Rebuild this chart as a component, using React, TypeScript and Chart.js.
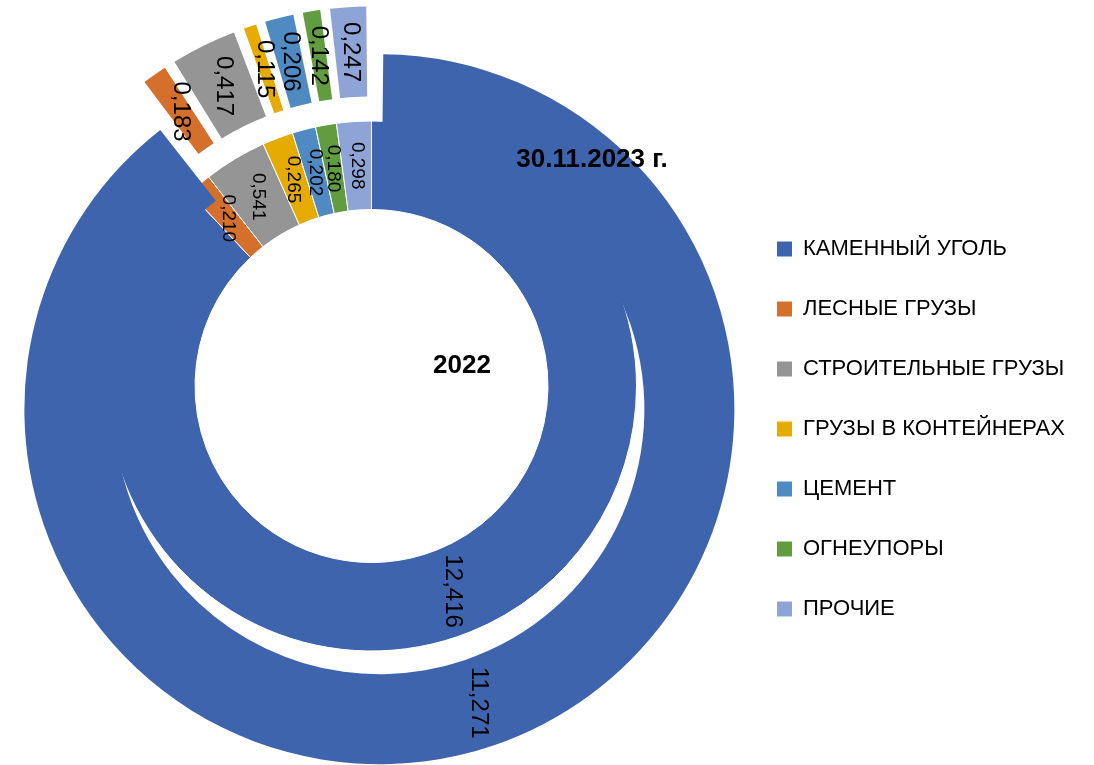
import React, { useEffect, useRef } from 'react';
import { Chart, registerables } from 'chart.js';

Chart.register(...registerables);

// ---- data ----
const categories = [
  'КАМЕННЫЙ УГОЛЬ',
  'ЛЕСНЫЕ ГРУЗЫ',
  'СТРОИТЕЛЬНЫЕ ГРУЗЫ',
  'ГРУЗЫ В КОНТЕЙНЕРАХ',
  'ЦЕМЕНТ',
  'ОГНЕУПОРЫ',
  'ПРОЧИЕ',
];
const values2023 = [11.271, 0.183, 0.417, 0.115, 0.206, 0.142, 0.247];
const values2022 = [12.416, 0.21, 0.541, 0.265, 0.202, 0.18, 0.298];
const seriesNames = ['30.11.2023 г.', '2022'];
const colors = ['#3E64AD', '#D4702C', '#959595', '#E5AB00', '#4F8AC2', '#629C40', '#8FA4D6'];

// ---- styling / geometry ----
const W = 1094;
const H = 765;
const FONT = "'Liberation Sans', Arial, sans-serif";
const HOLE_R = 176.5;
const INNER_OUT_R = 265;
const OUTER_OUT_R = 355;
const EXPLODE = 24.5;
const LEGEND_W = 355;

// Chart.js arc offset: translation o/4 plus radial growth (o/4)*fix
function explodeOffsets(vals: number[], d: number) {
  const total = vals.reduce((a, b) => a + b, 0);
  return vals.map((v) => {
    const circ = (v / total) * Math.PI * 2;
    const fix = 1 - Math.sin(Math.min(Math.PI, circ));
    return (8 * d) / (1 + fix);
  });
}

// outer dataset (index 0): nominal ring shifted inwards by EXPLODE
const outerNomOuter = OUTER_OUT_R - EXPLODE;
const outerNomInner = INNER_OUT_R - EXPLODE;
const outerCutout = ((2 * outerNomInner) / outerNomOuter - 1) * 100;
// inner dataset (index 1)
const innerL = INNER_OUT_R - HOLE_R;
const innerRadius = INNER_OUT_R + innerL;
const innerCutout = (HOLE_R / innerRadius) * 100;

const fmt = (v: number) => v.toFixed(3).replace('.', ',');

const legendWidthPlugin = {
  id: 'legendWidth',
  beforeUpdate(chart: any) {
    const lg = chart.legend;
    if (lg && !lg.__patched) {
      const orig = lg.fit.bind(lg);
      lg.fit = function () {
        orig();
        this.width = LEGEND_W;
      };
      lg.__patched = true;
    }
  },
};

const labelPlugin = {
  id: 'sliceLabels',
  afterDatasetsDraw(chart: any) {
    const ctx = chart.ctx;
    const total = (arr: number[]) => arr.reduce((a, b) => a + b, 0);
    let cx = 0;
    let cy = 0;
    chart.data.datasets.forEach((ds: any, di: number) => {
      const meta = chart.getDatasetMeta(di);
      const tot = total(ds.data);
      meta.data.forEach((arc: any, i: number) => {
        const p = arc.getProps(['x', 'y', 'startAngle', 'endAngle', 'innerRadius', 'outerRadius', 'circumference'], true);
        cx = p.x;
        cy = p.y;
        const o = (arc.options.offset || 0) / 4;
        const fix = 1 - Math.sin(Math.min(Math.PI, p.circumference));
        const h = (p.startAngle + p.endAngle) / 2;
        const r = (p.innerRadius + p.outerRadius) / 2 + o + o * fix;
        const x = p.x + Math.cos(h) * r;
        const y = p.y + Math.sin(h) * r;
        const big = ds.data[i] / tot > 0.5;
        const size = big || di === 0 ? 24 : 19;
        ctx.save();
        ctx.translate(x, y);
        ctx.rotate(Math.PI / 2);
        ctx.font = `${size}px ${FONT}`;
        ctx.fillStyle = '#000';
        ctx.textAlign = 'center';
        ctx.textBaseline = 'middle';
        ctx.fillText(fmt(ds.data[i]), 0, 0);
        ctx.restore();
      });
    });
    // series names
    ctx.save();
    ctx.font = `bold 26px ${FONT}`;
    ctx.fillStyle = '#000';
    ctx.textAlign = 'center';
    ctx.textBaseline = 'middle';
    ctx.fillText(chart.data.datasets[0].label, cx + 220.5, cy - 226);
    ctx.fillText(chart.data.datasets[1].label, cx + 90.5, cy - 20);
    ctx.restore();
  },
};

export default function App() {
  const ref = useRef<HTMLCanvasElement | null>(null);
  useEffect(() => {
    if (!ref.current) return;
    const baseGen = (Chart as any).overrides.doughnut.plugins.legend.labels.generateLabels;
    const chart = new Chart(ref.current, {
      type: 'doughnut',
      data: {
        labels: categories,
        datasets: [
          {
            label: seriesNames[0],
            data: values2023,
            backgroundColor: colors,
            borderWidth: 0,
            offset: explodeOffsets(values2023, EXPLODE),
            radius: outerNomOuter,
            cutout: `${outerCutout}%`,
            clip: false,
          } as any,
          {
            label: seriesNames[1],
            data: values2022,
            backgroundColor: colors,
            borderColor: '#ffffff',
            borderWidth: 1,
            offset: 0,
            radius: innerRadius,
            cutout: `${innerCutout}%`,
            clip: false,
          } as any,
        ],
      },
      options: {
        responsive: false,
        animation: false,
        events: [],
        layout: { padding: { left: 4, right: 0, top: 114, bottom: 107 } },
        plugins: {
          tooltip: { enabled: false },
          legend: {
            position: 'right',
            align: 'end',
            labels: {
              boxWidth: 15,
              boxHeight: 15,
              padding: 38,
              color: '#000',
              font: { family: FONT, size: 22 },
              generateLabels: (c: any) => baseGen(c).map((l: any) => ({ ...l, lineWidth: 0, strokeStyle: l.fillStyle })),
            },
          },
        },
      } as any,
      plugins: [legendWidthPlugin, labelPlugin],
    });
    return () => chart.destroy();
  }, []);
  return (
    <div style={{ position: 'absolute', left: 0, top: 0, width: W, height: H, background: '#fff' }}>
      <canvas ref={ref} width={W} height={H} style={{ width: W, height: H, display: 'block' }} />
    </div>
  );
}
